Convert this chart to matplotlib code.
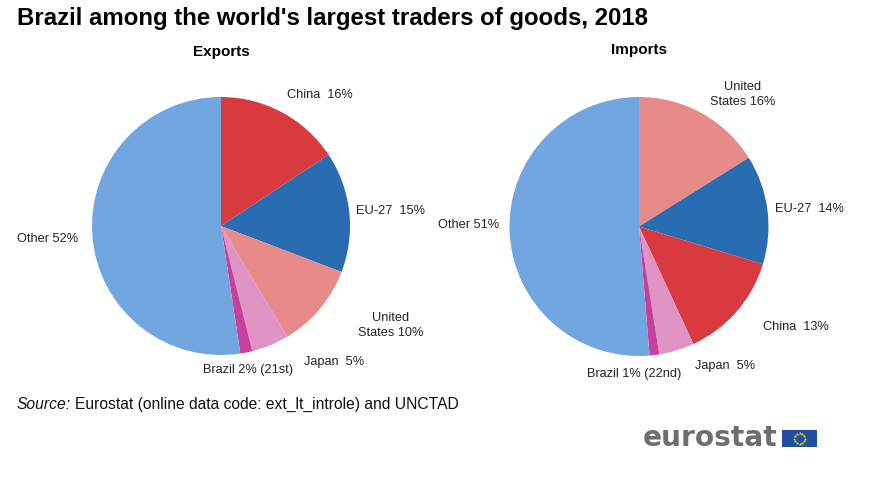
#!/usr/bin/env python3
import numpy as np
import matplotlib
matplotlib.use('Agg')
import matplotlib.pyplot as plt

plt.rcParams['font.family'] = ['Liberation Sans', 'DejaVu Sans']

W, H = 893, 478

export_labels = ['China', 'EU-27', 'United States', 'Japan', 'Brazil', 'Other']
export_values = [15.7, 15.1, 10.6, 4.7, 1.5, 52.4]
export_colors = ['#d93a40', '#286cb2', '#e88a8a', '#e093c5', '#c8409c', '#71a6e0']

import_labels = ['United States', 'EU-27', 'China', 'Japan', 'Brazil', 'Other']
import_values = [16.1, 13.6, 13.4, 4.4, 1.2, 51.3]
import_colors = ['#e88a8a', '#286cb2', '#d93a40', '#e093c5', '#c8409c', '#71a6e0']

export_text = ['China  16%', 'EU-27  15%', 'United\nStates 10%', 'Japan  5%',
               'Brazil 2% (21st)', 'Other 52%']
export_text_pos = [(320, 94), (391, 210), (391, 324), (334, 361), (248, 368), (48, 237)]

import_text = ['United\nStates 16%', 'EU-27  14%', 'China  13%', 'Japan  5%',
               'Brazil 1% (22nd)', 'Other 51%']
import_text_pos = [(743, 93), (809, 208), (796, 326), (725, 364), (634, 372), (469, 223)]

fig = plt.figure(figsize=(W / 100, H / 100), dpi=100)
fig.patch.set_facecolor('white')


def pie_at(cx, cy, r, values, colors):
    ax = fig.add_axes([(cx - r) / W, 1 - (cy + r) / H, 2 * r / W, 2 * r / H])
    ax.pie(values, colors=colors, startangle=90, counterclock=False, radius=1,
           wedgeprops={'linewidth': 0})
    ax.set_xlim(-1, 1)
    ax.set_ylim(-1, 1)


pie_at(221, 226, 129, export_values, export_colors)
pie_at(639, 226.5, 129.5, import_values, import_colors)


def label(x, y, s, **kw):
    fig.text(x / W, 1 - y / H, s, ha=kw.pop('ha', 'center'), va=kw.pop('va', 'center'), **kw)


label(17, 18, "Brazil among the world's largest traders of goods, 2018",
      ha='left', fontsize=17.3, fontweight='bold')
label(221, 52, 'Exports', fontsize=11, fontweight='bold')
label(639, 50, 'Imports', fontsize=11, fontweight='bold')

for s, (x, y) in zip(export_text + import_text, export_text_pos + import_text_pos):
    label(x, y + 1.5, s, fontsize=9.2, linespacing=1.3, color='#222222')

label(17, 409, 'Source:', ha='left', va='baseline', fontsize=11.25, style='italic', color='#111111')
label(75, 409, 'Eurostat (online data code: ext_lt_introle) and UNCTAD', ha='left',
      va='baseline', fontsize=11.25, color='#111111')

# logo
label(643, 438, 'eurostat', ha='left', fontsize=20.2, fontweight='bold',
      color='#6d6e70', family='DejaVu Sans')
flag = fig.add_axes([782 / W, 1 - 447 / H, 35 / W, 17 / H])
flag.set_facecolor('#1f4f9e')
flag.set_xlim(-35 / 17, 35 / 17)
flag.set_ylim(-1, 1)
flag.set_xticks([])
flag.set_yticks([])
for s in flag.spines.values():
    s.set_visible(False)
a = np.arange(12) * np.pi / 6
flag.plot(0.66 * np.cos(a), 0.66 * np.sin(a), '*', color='#f0d020', markersize=2.6,
          markeredgewidth=0)

plt.savefig('out.png', dpi=100, facecolor='white')
plt.close()
